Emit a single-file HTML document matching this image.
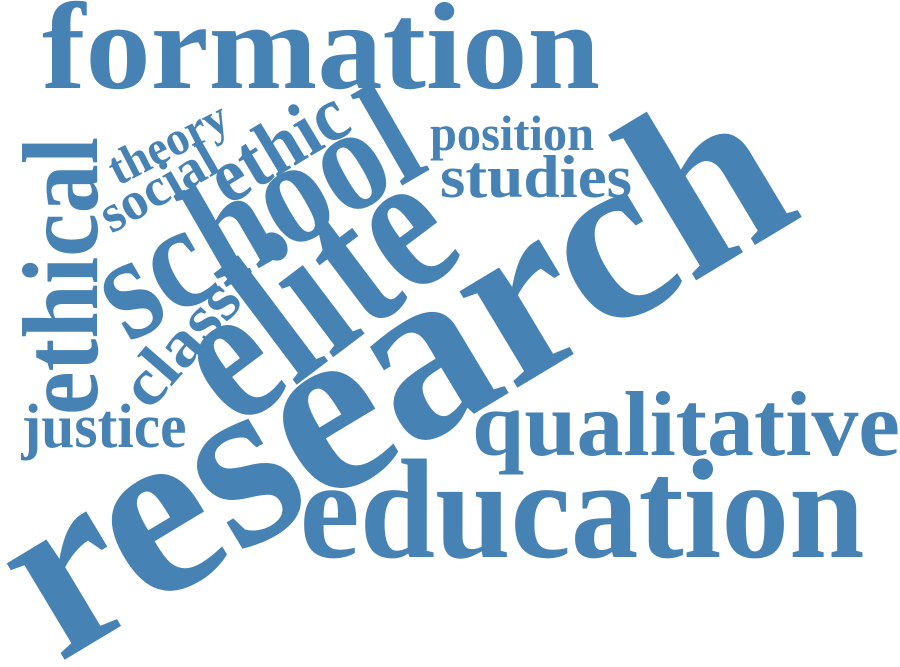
<!DOCTYPE html>
<html><head><meta charset="utf-8"><style>
html,body{margin:0;padding:0;background:#fff;width:900px;height:667px;overflow:hidden;}
svg{display:block;overflow:hidden;}
text{font-family:"Liberation Serif",serif;font-weight:bold;fill:#4682b4;}
</style></head><body>
<svg width="900" height="667" viewBox="0 0 900 667">
<text x="321" y="88" font-size="124" text-anchor="middle" textLength="558" lengthAdjust="spacingAndGlyphs">formation</text>
<text x="432" y="439" font-size="245" text-anchor="middle" textLength="870" lengthAdjust="spacingAndGlyphs" transform="rotate(-31 432 439)">research</text>
<text x="582" y="557" font-size="142" text-anchor="middle" textLength="565" lengthAdjust="spacingAndGlyphs">education</text>
<text x="686" y="455" font-size="92" text-anchor="middle" textLength="428" lengthAdjust="spacingAndGlyphs">qualitative</text>
<text x="352" y="343" font-size="200" text-anchor="middle" textLength="290" lengthAdjust="spacingAndGlyphs" transform="rotate(-37 352 343)">elite</text>
<text x="280" y="256" font-size="150" text-anchor="middle" textLength="350" lengthAdjust="spacingAndGlyphs" transform="rotate(-30 280 256)">school</text>
<text x="291" y="168" font-size="78" text-anchor="middle" textLength="148" lengthAdjust="spacingAndGlyphs" transform="rotate(-31 291 168)">ethic</text>
<text x="167" y="202" font-size="54" text-anchor="middle" textLength="128" lengthAdjust="spacingAndGlyphs" transform="rotate(-30 167 202)">social</text>
<text x="175" y="157" font-size="48" text-anchor="middle" textLength="128" lengthAdjust="spacingAndGlyphs" transform="rotate(-27 175 157)">theory</text>
<text x="197" y="357" font-size="66" text-anchor="middle" textLength="145" lengthAdjust="spacingAndGlyphs" transform="rotate(-49 197 357)">class</text>
<text x="97" y="276" font-size="108" text-anchor="middle" textLength="278" lengthAdjust="spacingAndGlyphs" transform="rotate(-90 97 276)">ethical</text>
<text x="104" y="447" font-size="62" text-anchor="middle" textLength="165" lengthAdjust="spacingAndGlyphs">justice</text>
<text x="512" y="150" font-size="50" text-anchor="middle" textLength="164" lengthAdjust="spacingAndGlyphs">position</text>
<text x="536" y="197" font-size="60" text-anchor="middle" textLength="192" lengthAdjust="spacingAndGlyphs">studies</text>
</svg>
</body></html>
